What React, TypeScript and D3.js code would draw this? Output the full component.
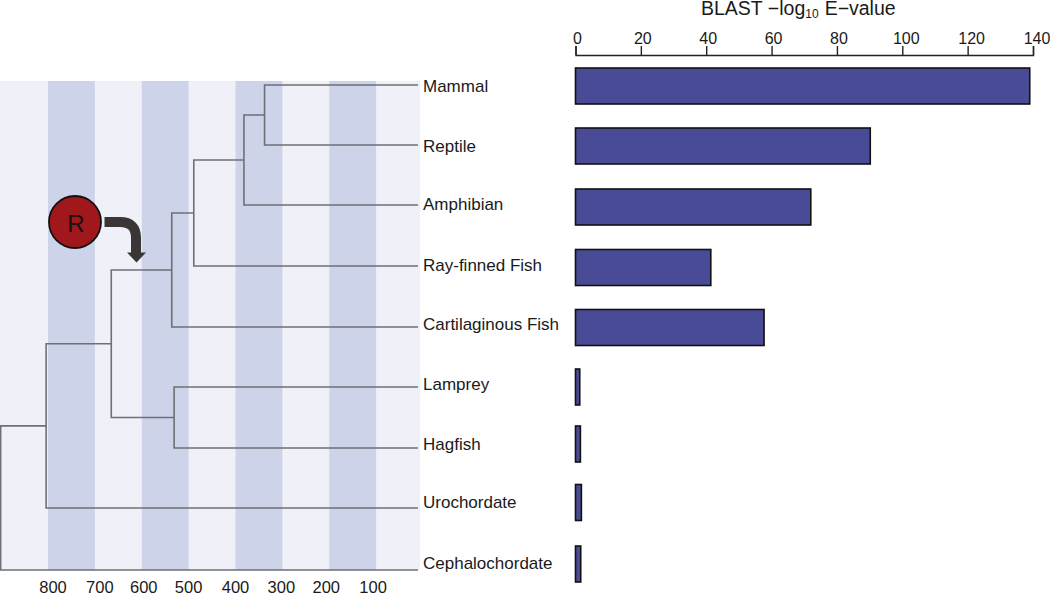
import React, { useEffect, useRef } from "react";
import * as d3 from "d3";

const taxa = ["Mammal", "Reptile", "Amphibian", "Ray-finned Fish", "Cartilaginous Fish", "Lamprey", "Hagfish", "Urochordate", "Cephalochordate"];
const blastValues = [139, 90.2, 72, 41.4, 57.7, 1.3, 1.5, 1.8, 1.6];
const leafRows = [85, 145, 205, 266, 327, 387, 448, 508, 570];
const labelRows = [86, 146, 204, 265, 324, 384, 444, 502, 563];
const barRows = [86, 146, 207, 267.5, 327.5, 387, 444, 502.5, 564];
const blastTicks = [0, 20, 40, 60, 80, 100, 120, 140];
const timeTicks = [800, 700, 600, 500, 400, 300, 200, 100];
const timeLabelShift = [5, 5, 2, 0, 0, -1, -3, -3];
const timeBands = [[800, 700], [600, 500], [400, 300], [200, 100]];
// internal nodes: [child a, child b, age in Ma]; ids >= taxa.length refer to earlier merges
const merges = [
  [0, 1, 338],
  [9, 2, 382],
  [10, 3, 489],
  [11, 4, 536],
  [5, 6, 531],
  [12, 13, 665],
  [14, 7, 804],
  [15, 8, 901],
];

export default function App() {
  const ref = useRef<SVGSVGElement>(null);
  useEffect(() => {
    const svg = d3.select(ref.current!);
    svg.selectAll("*").remove();
    const font = "'Liberation Sans', Arial, sans-serif";

    const t = d3.scaleLinear().domain([0, 800]).range([423, 48]);
    const b = d3.scaleLinear().domain([0, 140]).range([575.5, 1033]);

    // background
    svg.append("rect").attr("x", 0).attr("y", 81).attr("width", 420).attr("height", 489).attr("fill", "#f0f1f8");
    svg.selectAll("rect.band").data(timeBands).join("rect").attr("class", "band")
      .attr("x", d => t(d[0])).attr("width", d => t(d[1]) - t(d[0]))
      .attr("y", 81).attr("height", 489).attr("fill", "#cdd3e9");

    // tree
    const nodes: { x: number; y: number }[] = leafRows.map(y => ({ x: 418, y }));
    const segs: string[] = [];
    merges.forEach(([a, c, age]) => {
      const na = nodes[a], nc = nodes[c], x = t(age);
      segs.push(`M${na.x},${na.y}H${x}V${nc.y}H${nc.x}`);
      nodes.push({ x, y: (na.y + nc.y) / 2 });
    });
    svg.append("g").selectAll("path").data(segs).join("path")
      .attr("d", d => d).attr("fill", "none").attr("stroke", "#6d7075").attr("stroke-width", 1.6);

    // time tick labels
    svg.append("g").selectAll("text").data(timeTicks).join("text")
      .attr("x", (d, i) => t(d) + timeLabelShift[i]).attr("y", 593)
      .attr("text-anchor", "middle").attr("font-family", font).attr("font-size", 16.5).attr("fill", "#1a1a1a").text(d => d);

    // taxa
    svg.append("g").selectAll("text").data(taxa).join("text")
      .attr("x", 423).attr("y", (_, i) => labelRows[i]).attr("dy", "0.35em")
      .attr("font-family", font).attr("font-size", 17).attr("fill", "#1a1a1a").text(d => d);

    // bars
    svg.append("g").selectAll("rect").data(blastValues).join("rect")
      .attr("x", b(0)).attr("width", d => b(d) - b(0))
      .attr("y", (_, i) => barRows[i] - 18).attr("height", 36)
      .attr("fill", "#4a4b96").attr("stroke", "#111").attr("stroke-width", 1.6);

    // top axis
    const axis = svg.append("g").attr("transform", "translate(0,55)")
      .call(d3.axisTop(b).tickValues(blastTicks).tickSize(9).tickSizeOuter(9).tickPadding(2));
    axis.selectAll("path,line").attr("stroke", "#222").attr("stroke-width", 1.4);
    axis.selectAll("text").attr("font-family", font).attr("font-size", 16).attr("fill", "#1a1a1a")
      .attr("dx", (d: any) => (d >= 100 ? 3.5 : 1.5));

    // title
    const title = svg.append("text").attr("x", 701).attr("y", 15)
      .attr("font-family", font).attr("font-size", 19.5).attr("fill", "#1a1a1a");
    title.append("tspan").text("BLAST \u2212log");
    title.append("tspan").attr("font-size", 12).attr("dy", 3).text("10");
    title.append("tspan").attr("dy", -3).attr("dx", 6).text("E\u2212value");

    // root marker
    svg.append("circle").attr("cx", 75).attr("cy", 222).attr("r", 26)
      .attr("fill", "#a0181c").attr("stroke", "#111").attr("stroke-width", 1.8);
    svg.append("text").attr("x", 76).attr("y", 223).attr("dy", "0.37em").attr("text-anchor", "middle")
      .attr("font-family", font).attr("font-size", 24).attr("fill", "#1a1010").text("R");
    svg.append("path").attr("d", "M104.5,222H120Q136,222 136,238V254")
      .attr("fill", "none").attr("stroke", "#3a3635").attr("stroke-width", 10);
    svg.append("path").attr("d", "M127,252.5H146L136.5,262.5Z").attr("fill", "#3a3635");
  }, []);
  return (
    <svg ref={ref} width={1050} height={595}
      style={{ position: "absolute", left: 0, top: 0, display: "block" }} />
  );
}
